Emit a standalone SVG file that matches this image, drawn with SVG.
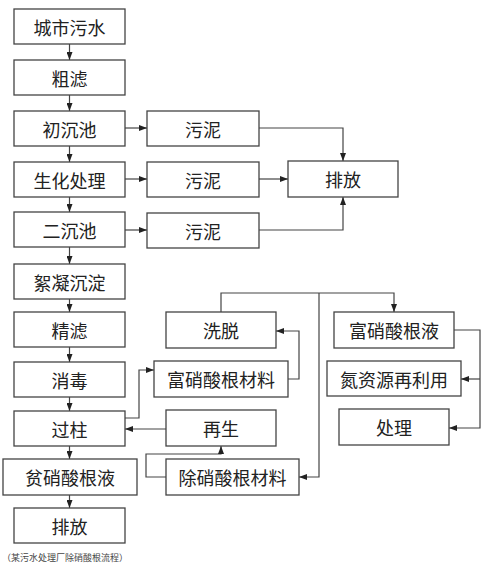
<svg xmlns="http://www.w3.org/2000/svg" width="500" height="567" viewBox="0 0 500 567">
<style>
.b{fill:#fff;stroke:#444;stroke-width:1.3}
.t{font-family:"Noto Sans CJK SC","Noto Sans",sans-serif;font-size:18px;fill:#222;text-anchor:middle;dominant-baseline:central}
.c{fill:none;stroke:#444;stroke-width:1.2}
.cap{font-family:"Noto Sans CJK SC","Noto Sans",sans-serif;font-size:9px;fill:#444;dominant-baseline:central}
</style>
<defs>
<marker id="a" viewBox="0 0 8 6" refX="8" refY="3" markerWidth="8" markerHeight="6" markerUnits="userSpaceOnUse" orient="auto">
<path d="M0,0 L8,3 L0,6 Z" fill="#222"/>
</marker>
</defs>
<rect width="500" height="567" fill="#fff"/>
<g id="connectors" class="c" marker-end="url(#a)">
<path d="M69.5,44 V60"/>
<path d="M69.5,95 V111"/>
<path d="M69.5,146 V162"/>
<path d="M69.5,197 V212"/>
<path d="M69.5,247 V264"/>
<path d="M69.5,299 V312"/>
<path d="M69.5,347 V362"/>
<path d="M69.5,397 V411"/>
<path d="M69.5,446 V459"/>
<path d="M69.5,495 V508"/>
<path d="M125,128 H147"/>
<path d="M125,179 H147"/>
<path d="M125,230 H147"/>
<path d="M259,128 H343 V161"/>
<path d="M259,179 H288"/>
<path d="M259,230 H343 V197"/>
<path d="M125,418 H139 V370 H154"/>
<path d="M288,379 H299 V331 H276"/>
<path d="M221,312 V293 H394 V312"/>
<path d="M319,293 V477 H299"/>
<path d="M166,429 H125"/>
<path d="M166,477 H146 V454 H221 V446"/>
<path d="M454,330 H480 V428 H449"/>
<path d="M480,379 H461"/>
</g>
<g id="n1"><rect class="b" x="14" y="9" width="111" height="35"/><text class="t" x="69.5" y="26.5">城市污水</text></g>
<g id="n2"><rect class="b" x="14" y="60" width="111" height="35"/><text class="t" x="69.5" y="77.5">粗滤</text></g>
<g id="n3"><rect class="b" x="14" y="111" width="111" height="35"/><text class="t" x="69.5" y="128.5">初沉池</text></g>
<g id="n4"><rect class="b" x="14" y="162" width="111" height="35"/><text class="t" x="69.5" y="179.5">生化处理</text></g>
<g id="n5"><rect class="b" x="14" y="212" width="111" height="35"/><text class="t" x="69.5" y="229.5">二沉池</text></g>
<g id="n6"><rect class="b" x="14" y="264" width="111" height="35"/><text class="t" x="69.5" y="281.5">絮凝沉淀</text></g>
<g id="n7"><rect class="b" x="14" y="312" width="111" height="35"/><text class="t" x="69.5" y="329.5">精滤</text></g>
<g id="n8"><rect class="b" x="14" y="362" width="111" height="35"/><text class="t" x="69.5" y="379.5">消毒</text></g>
<g id="n9"><rect class="b" x="14" y="411" width="111" height="35"/><text class="t" x="69.5" y="428.5">过柱</text></g>
<g id="n10"><rect class="b" x="3" y="459" width="134" height="36"/><text class="t" x="70" y="477">贫硝酸根液</text></g>
<g id="n11"><rect class="b" x="14" y="508" width="111" height="35"/><text class="t" x="69.5" y="525.5">排放</text></g>
<g id="s1"><rect class="b" x="147" y="111" width="112" height="35"/><text class="t" x="203" y="128.5">污泥</text></g>
<g id="s2"><rect class="b" x="147" y="162" width="112" height="35"/><text class="t" x="203" y="179.5">污泥</text></g>
<g id="s3"><rect class="b" x="147" y="213" width="112" height="35"/><text class="t" x="203" y="230.5">污泥</text></g>
<g id="d1"><rect class="b" x="288" y="161" width="110" height="36"/><text class="t" x="343" y="179">排放</text></g>
<g id="r1"><rect class="b" x="166" y="312" width="110" height="36"/><text class="t" x="221" y="330">洗脱</text></g>
<g id="r2"><rect class="b" x="154" y="361" width="134" height="36"/><text class="t" x="221" y="379">富硝酸根材料</text></g>
<g id="r3"><rect class="b" x="166" y="410" width="110" height="36"/><text class="t" x="221" y="428">再生</text></g>
<g id="r4"><rect class="b" x="166" y="459" width="133" height="36"/><text class="t" x="232.5" y="477">除硝酸根材料</text></g>
<g id="q1"><rect class="b" x="334" y="312" width="120" height="36"/><text class="t" x="394" y="330">富硝酸根液</text></g>
<g id="q2"><rect class="b" x="327" y="361" width="134" height="35"/><text class="t" x="394" y="378.5">氮资源再利用</text></g>
<g id="q3"><rect class="b" x="339" y="409" width="110" height="36"/><text class="t" x="394" y="427">处理</text></g>
<text class="cap" x="2" y="557">（某污水处理厂除硝酸根流程）</text>
</svg>
